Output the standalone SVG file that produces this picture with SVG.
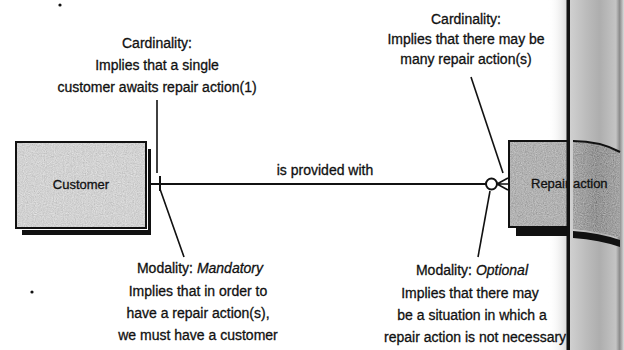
<svg xmlns="http://www.w3.org/2000/svg" width="624" height="350" viewBox="0 0 624 350">
<style>
.t{font-family:"Liberation Sans",Arial,sans-serif;font-size:14px;fill:#111;stroke:#111;stroke-width:0.3;text-anchor:middle}
.s{text-anchor:start}
.n{font-family:"Liberation Sans",Arial,sans-serif;font-size:13px;fill:#111;stroke:#111;stroke-width:0.3}
.ln{stroke:#111;stroke-width:2;fill:none}
.ptr{stroke:#111;stroke-width:1.6;fill:none}
.it{font-style:italic}
</style>
<defs>
<filter id="speckle" x="0" y="0" width="1" height="1">
<feTurbulence type="fractalNoise" baseFrequency="0.9" numOctaves="2" seed="3" result="n"/>
<feColorMatrix in="n" type="matrix" values="0.33 0.33 0.33 0 0 0.33 0.33 0.33 0 0 0.33 0.33 0.33 0 0 0 0 0 0 1" result="g"/>
<feComposite in="SourceGraphic" in2="g" operator="arithmetic" k1="0" k2="1" k3="0.6" k4="-0.3" result="c"/>
<feComposite in="c" in2="SourceAlpha" operator="in"/>
</filter>
<linearGradient id="gutterL" x1="0" x2="1" y1="0" y2="0">
<stop offset="0" stop-color="#ffffff" stop-opacity="0"/>
<stop offset="1" stop-color="#d6d6d6"/>
</linearGradient>
<linearGradient id="gutterR" gradientUnits="userSpaceOnUse" x1="570" x2="624" y1="0" y2="0">
<stop offset="0" stop-color="#d0d0d0"/>
<stop offset="0.3" stop-color="#bcbcbc"/>
<stop offset="0.55" stop-color="#aeaeae"/>
<stop offset="0.85" stop-color="#c4c4c4"/>
<stop offset="0.92" stop-color="#8a8a8a"/>
<stop offset="1" stop-color="#dcdcdc"/>
</linearGradient>
<linearGradient id="boxR" gradientUnits="userSpaceOnUse" x1="572" x2="620" y1="0" y2="0">
<stop offset="0" stop-color="#a8a8a8"/>
<stop offset="0.5" stop-color="#949494"/>
<stop offset="1" stop-color="#a4a4a4"/>
</linearGradient>
</defs>
<rect width="624" height="350" fill="#ffffff"/>
<rect x="548" y="0" width="20" height="350" fill="url(#gutterL)"/>
<rect x="570" y="0" width="54" height="350" fill="url(#gutterR)"/>

<g id="node-customer">
<rect x="22" y="149" width="129" height="86" fill="#111"/>
<rect x="15" y="141" width="133" height="89" fill="#fff"/>
<rect x="16" y="142" width="130" height="86" fill="#d2d2d2" filter="url(#speckle)"/>
<rect x="16" y="142" width="130" height="86" fill="none" stroke="#111" stroke-width="2"/>
<text class="n" x="81" y="189" text-anchor="middle">Customer</text>
</g>

<g id="node-repair-action">
<rect x="516" y="228" width="51" height="8" fill="#111"/>
<rect x="509" y="141" width="58" height="86" fill="#b2b2b2" filter="url(#speckle)"/>
<path d="M567,141 L509,141 L509,227 L567,227" fill="none" stroke="#111" stroke-width="2"/>
<path d="M573,141 Q600,141 620,152 L620,238 Q600,231 573,229 Z" fill="url(#boxR)" filter="url(#speckle)"/>
<path d="M573,141 Q600,141 620,152" fill="none" stroke="#111" stroke-width="2"/>
<path d="M573,231 Q600,233 620,240 L620,247 Q600,240 573,238 Z" fill="#111"/>
<text class="n" x="531" y="188">Repair action</text>
</g>

<g id="connectors">
<line class="ln" x1="151" y1="184" x2="486" y2="184"/>
<line class="ln" x1="160" y1="176" x2="160" y2="191"/>
<circle cx="491.5" cy="184" r="5.5" fill="#fff" stroke="#111" stroke-width="2"/>
<path class="ptr" d="M497,184 L508,178 M497,184 L508,184 M497,184 L508,190"/>
<line class="ptr" x1="157" y1="100" x2="157" y2="173"/>
<line class="ptr" x1="160" y1="189" x2="184" y2="257"/>
<line class="ptr" x1="471" y1="77" x2="503" y2="173"/>
<line class="ptr" x1="490" y1="191" x2="478" y2="257"/>
</g>

<g id="labels">
<text class="t" x="157" y="48">Cardinality:</text>
<text class="t" x="157" y="70">Implies that a single</text>
<text class="t" x="157" y="92">customer awaits repair action(1)</text>

<text class="t" x="466" y="24">Cardinality:</text>
<text class="t" x="466" y="44">Implies that there may be</text>
<text class="t" x="466" y="64">many repair action(s)</text>

<text class="t" x="325" y="175">is provided with</text>

<text class="t" x="200" y="273">Modality: <tspan class="it">Mandatory</tspan></text>
<text class="t" x="198" y="296">Implies that in order to</text>
<text class="t" x="198" y="318">have a repair action(s),</text>
<text class="t" x="198" y="340">we must have a customer</text>

<text class="t" x="472" y="275">Modality: <tspan class="it">Optional</tspan></text>
<text class="t" x="470" y="298">Implies that there may</text>
<text class="t" x="472" y="320">be a situation in which a</text>
<text class="t s" x="384" y="342">repair action is not necessary</text>
</g>

<rect x="566.5" y="0" width="3.5" height="350" fill="#111"/>
<circle cx="60" cy="5" r="1.6" fill="#111"/>
<circle cx="32" cy="292" r="1.6" fill="#111"/>
</svg>
